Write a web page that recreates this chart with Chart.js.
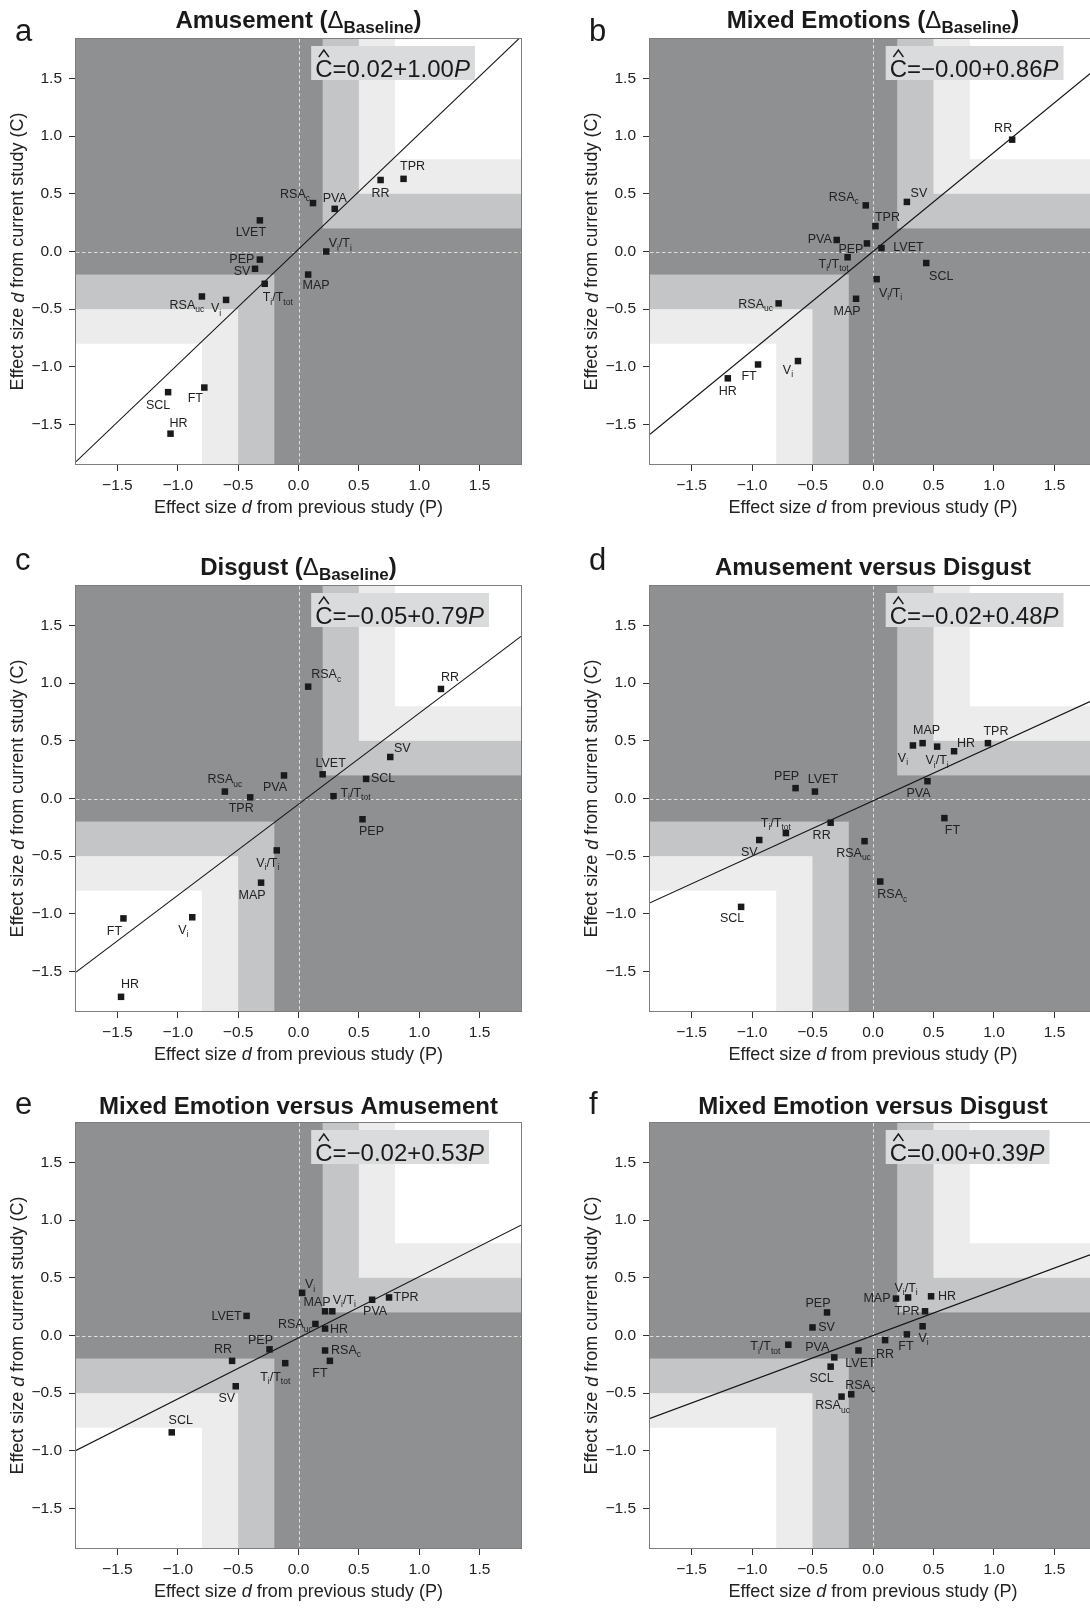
<!DOCTYPE html>
<html>
<head>
<meta charset="utf-8">
<script src="https://cdn.jsdelivr.net/npm/chart.js@4.4.1/dist/chart.umd.min.js"></script>
<style>
  html, body { margin: 0; padding: 0; background: #fff; width: 1090px; height: 1608px; overflow: hidden; }
  #wrap { position: relative; width: 1090px; height: 1608px; overflow: hidden; }
  canvas { position: absolute; }
</style>
</head>
<body>
<div id="wrap"></div>
<script>
"use strict";

// Measures, same order in every panel
const measures = ["HR", "SCL", "FT", "RR", "TPR", "PVA", "RSA_c", "RSA_uc", "LVET", "PEP", "SV", "MAP", "V_i", "V_i/T_i", "T_i/T_tot"];

// a: Amusement (delta baseline)
const prevA = [-1.06, -1.08, -0.78, 0.68, 0.87, 0.30, 0.12, -0.80, -0.32, -0.32, -0.36, 0.08, -0.60, 0.23, -0.28];
const currA = [-1.58, -1.22, -1.18, 0.62, 0.63, 0.37, 0.42, -0.39, 0.27, -0.07, -0.15, -0.20, -0.42, 0.00, -0.28];
// b: Mixed emotions (delta baseline)
const prevB = [-1.20, 0.44, -0.95, 1.15, 0.02, -0.30, -0.06, -0.78, 0.07, -0.05, 0.28, -0.14, -0.62, 0.03, -0.21];
const currB = [-1.10, -0.10, -0.98, 0.97, 0.22, 0.10, 0.40, -0.45, 0.03, 0.07, 0.43, -0.41, -0.95, -0.24, -0.05];
// c: Disgust (delta baseline)
const prevC = [-1.47, 0.56, -1.45, 1.18, -0.40, -0.12, 0.08, -0.61, 0.20, 0.53, 0.76, -0.31, -0.88, -0.18, 0.29];
const currC = [-1.72, 0.17, -1.04, 0.95, 0.01, 0.20, 0.97, 0.06, 0.21, -0.18, 0.36, -0.73, -1.03, -0.45, 0.02];
// d: Amusement versus disgust
const prevD = [0.67, -1.09, 0.59, -0.35, 0.95, 0.45, 0.06, -0.07, -0.48, -0.64, -0.94, 0.41, 0.33, 0.53, -0.72];
const currD = [0.41, -0.94, -0.17, -0.21, 0.48, 0.15, -0.72, -0.37, 0.06, 0.09, -0.36, 0.48, 0.46, 0.45, -0.30];
// e: Mixed emotion versus amusement
const prevE = [0.22, -1.05, 0.26, -0.55, 0.75, 0.61, 0.22, 0.14, -0.43, -0.24, -0.52, 0.22, 0.03, 0.28, -0.11];
const currE = [0.06, -0.84, -0.22, -0.22, 0.33, 0.31, -0.13, 0.10, 0.17, -0.12, -0.44, 0.21, 0.37, 0.21, -0.24];
// f: Mixed emotion versus disgust
const prevF = [0.48, -0.35, 0.28, 0.10, 0.43, -0.32, -0.18, -0.26, -0.12, -0.38, -0.50, 0.19, 0.41, 0.29, -0.70];
const currF = [0.34, -0.27, 0.01, -0.04, 0.21, -0.19, -0.51, -0.53, -0.13, 0.20, 0.07, 0.32, 0.08, 0.33, -0.08];

// fitted lines C = a + bP
const intercepts = [0.02, -0, -0.05, -0.02, -0.02, 0];
const slopes = [1.00, 0.86, 0.79, 0.48, 0.53, 0.39];

const titles = ["Amusement (Δ_Baseline)", "Mixed Emotions (Δ_Baseline)", "Disgust (Δ_Baseline)",
  "Amusement versus Disgust", "Mixed Emotion versus Amusement", "Mixed Emotion versus Disgust"];
const letters = ["a", "b", "c", "d", "e", "f"];
const tickValues = [-1.5, -1.0, -0.5, 0, 0.5, 1.0, 1.5];
const bands = [0.2, 0.5, 0.8]; // effect size thresholds for the shading
const axisMin = -1.843, axisMax = 1.843;

// label centre offsets from each point, pixels (same order as measures)
const offA = [[8,-11],[-10,12],[-9,10],[0,12],[9,-13],[0,-11],[-18,-10],[-15,8],[-9,11],[-18,-1],[-13,2],[8,10],[-10,8],[14,-9],[13,13]];
const offB = [[0,12],[15,12],[-9,11],[-9,-12],[12,-10],[-17,-1],[-22,-9],[-23,0],[27,-2],[-16,5],[12,-9],[-9,12],[-10,8],[14,13],[-14,6]];
const offC = [[9,-13],[17,-1],[-9,12],[9,-12],[-9,10],[-9,11],[18,-13],[0,-13],[8,-12],[9,11],[12,-9],[-9,12],[-9,12],[-9,12],[22,-4]];
const offD = [[12,-9],[-9,11],[8,11],[-9,12],[8,-13],[-9,11],[12,12],[-11,11],[8,-13],[-9,-13],[-10,11],[4,-14],[-10,12],[0,13],[-10,-11]];
const offE = [[14,0],[9,-13],[-10,12],[-9,-12],[17,-1],[3,11],[21,-1],[-20,0],[-20,0],[-9,-10],[-9,11],[-8,-10],[8,-9],[12,-12],[-10,13]];
const offF = [[16,-1],[-9,11],[-1,11],[0,13],[-18,-1],[-17,-11],[9,-10],[-9,8],[2,12],[-9,-10],[14,-1],[-19,-1],[1,11],[-2,-10],[-23,1]];

const panels = [
  [prevA, currA, offA], [prevB, currB, offB], [prevC, currC, offC],
  [prevD, currD, offD], [prevE, currE, offE], [prevF, currF, offF]
];

// page layout
const FONT = "'Liberation Sans', Arial, Helvetica, sans-serif";
const plotLeft = [76, 650], plotRight = [521, 1096];
const plotTop = [39, 586, 1123], plotH = 425;
const titleBase = [27.5, 575, 1114];
const letterBase = [41, 570, 1114], letterX = [15, 589];
const DARK = "#8f9092", MED = "#c4c5c7", LIGHT = "#ececec", WHITE = "#ffffff";
const INK = "#222";

function fmtTick(v) {
  const s = Math.abs(v).toFixed(1);
  return v < 0 ? "\u2212" + s : s;
}
function fmtCoef(v) {
  const neg = v < 0 || Object.is(v, -0);
  return (neg ? "\u2212" : "") + Math.abs(v).toFixed(2);
}

// "V_i/T_i" -> text parts with subscripts
function labelParts(str, size) {
  const main = size + "px " + FONT;
  const sub = (size * 0.68).toFixed(1) + "px " + FONT;
  const out = [];
  str.split("/").forEach((piece, i) => {
    if (i > 0) out.push({ t: "/", f: main, dy: 0 });
    const [base, s] = piece.split("_");
    out.push({ t: base, f: main, dy: 0 });
    if (s) out.push({ t: s, f: sub, dy: size * 0.28 });
  });
  return out;
}

function drawParts(ctx, parts, x, y, align) {
  let w = 0;
  parts.forEach(p => { ctx.font = p.f; p.w = ctx.measureText(p.t).width; w += p.w; });
  let cx = align === "center" ? x - w / 2 : (align === "right" ? x - w : x);
  ctx.textAlign = "left";
  parts.forEach(p => { ctx.font = p.f; ctx.fillText(p.t, cx, y + (p.dy || 0)); cx += p.w; });
  return w;
}

function titleParts(str) {
  const bold = "bold 24px " + FONT;
  const m = str.match(/^(.*\()Δ_(\w+)\)$/);
  if (!m) return [{ t: str, f: bold }];
  return [
    { t: m[1], f: bold },
    { t: "Δ", f: "24px " + FONT },
    { t: m[2], f: "bold 17px " + FONT, dy: 5 },
    { t: ")", f: bold }
  ];
}

function axisParts(tail) {
  const f = "18px " + FONT;
  return [{ t: "Effect size ", f: f }, { t: "d", f: "italic 18px " + FONT }, { t: tail, f: f }];
}

function decor(i, prev, curr, offs, cTop) {
  const row = Math.floor(i / 2);
  return {
    id: "decor" + i,
    beforeDatasetsDraw(chart) {
      const { ctx, chartArea: ca, scales: { x, y } } = chart;
      ctx.save();
      ctx.beginPath();
      ctx.rect(ca.left, ca.top, ca.width, ca.height);
      ctx.clip();
      ctx.fillStyle = DARK;
      ctx.fillRect(ca.left, ca.top, ca.width, ca.height);
      const shades = [MED, LIGHT, WHITE];
      bands.forEach((b, k) => {
        ctx.fillStyle = shades[k];
        const px = x.getPixelForValue(b), py = y.getPixelForValue(b);
        ctx.fillRect(px, ca.top, ca.right - px, py - ca.top);
        const nx = x.getPixelForValue(-b), ny = y.getPixelForValue(-b);
        ctx.fillRect(ca.left, ny, nx - ca.left, ca.bottom - ny);
      });
      // dashed zero lines
      ctx.strokeStyle = "#dedede";
      ctx.lineWidth = 1;
      ctx.setLineDash([3.5, 2.5]);
      const x0 = Math.round(x.getPixelForValue(0)) + 0.5;
      const y0 = Math.round(y.getPixelForValue(0)) + 0.5;
      ctx.beginPath();
      ctx.moveTo(x0, ca.top); ctx.lineTo(x0, ca.bottom);
      ctx.moveTo(ca.left, y0); ctx.lineTo(ca.right, y0);
      ctx.stroke();
      ctx.restore();
    },
    afterDatasetsDraw(chart) {
      const { ctx, chartArea: ca, scales: { x, y } } = chart;
      ctx.save();
      // point labels
      ctx.fillStyle = INK;
      ctx.textBaseline = "alphabetic";
      measures.forEach((name, k) => {
        const px = x.getPixelForValue(prev[k]) + offs[k][0];
        const py = y.getPixelForValue(curr[k]) + offs[k][1] + 4.5;
        drawParts(ctx, labelParts(name, 12.5), px, py, "center");
      });

      // equation box
      const eq = [
        { t: "C", f: "24px " + FONT },
        { t: "=" + fmtCoef(intercepts[i]) + "+" + slopes[i].toFixed(2), f: "24px " + FONT },
        { t: "P", f: "italic 24px " + FONT }
      ];
      let w = 0;
      eq.forEach(p => { ctx.font = p.f; p.w = ctx.measureText(p.t).width; w += p.w; });
      const bx = x.getPixelForValue(0.105), by = ca.top + 7;
      ctx.fillStyle = "#dadbdc";
      ctx.fillRect(bx, by, w + 9, 34);
      ctx.fillStyle = "#1a1a1a";
      drawParts(ctx, eq, bx + 4, by + 31, "left");
      const hx = bx + 4 + eq[0].w / 2;
      ctx.strokeStyle = "#1a1a1a";
      ctx.lineWidth = 1.4;
      ctx.beginPath();
      ctx.moveTo(hx - 5, by + 11); ctx.lineTo(hx, by + 4); ctx.lineTo(hx + 5, by + 11);
      ctx.stroke();

      // plot frame
      ctx.strokeStyle = "#7d7d7d";
      ctx.lineWidth = 1;
      ctx.strokeRect(ca.left - 0.5, ca.top - 0.5, ca.width + 1, ca.height + 1);
      ctx.restore();
    },
    afterDraw(chart) {
      const { ctx, chartArea: ca } = chart;
      ctx.save();
      ctx.fillStyle = "#1a1a1a";
      ctx.textBaseline = "alphabetic";
      drawParts(ctx, titleParts(titles[i]), (ca.left + ca.right) / 2, titleBase[row] - cTop, "center");
      ctx.font = "31px " + FONT;
      ctx.textAlign = "left";
      ctx.fillText(letters[i], letterX[i % 2] - (i % 2 ? 545 : 0), letterBase[row] - cTop);

      ctx.fillStyle = INK;
      ctx.textBaseline = "middle";
      drawParts(ctx, axisParts(" from previous study (P)"), (ca.left + ca.right) / 2, ca.bottom + 44, "center");
      ctx.translate(ca.left - 57.5, (ca.top + ca.bottom) / 2);
      ctx.rotate(-Math.PI / 2);
      drawParts(ctx, axisParts(" from current study (C)"), 0, 0, "center");
      ctx.restore();
    }
  };
}

const wrap = document.getElementById("wrap");

panels.forEach(([prev, curr, offs], i) => {
  const col = i % 2, row = Math.floor(i / 2);
  const cLeft = col ? 545 : 0, cW = col ? 560 : 545;
  const cTop = plotTop[row] - 50, cH = 545;
  const canvas = document.createElement("canvas");
  canvas.width = cW;
  canvas.height = cH;
  canvas.style.left = cLeft + "px";
  canvas.style.top = cTop + "px";
  canvas.style.width = cW + "px";
  canvas.style.height = cH + "px";
  wrap.appendChild(canvas);

  const yW = plotLeft[col] - cLeft;
  const padR = cW - (plotRight[col] - cLeft);
  const a = intercepts[i], b = slopes[i];

  const tickOpts = {
    color: INK,
    font: { family: FONT, size: 15.5 },
    maxRotation: 0,
    autoSkip: false,
    callback: v => fmtTick(v)
  };
  const gridOpts = { drawOnChartArea: false, drawTicks: true, tickLength: 7, color: "#333" };

  new Chart(canvas, {
    data: {
      datasets: [
        {
          type: "scatter",
          data: prev.map((p, k) => ({ x: p, y: curr[k] })),
          pointStyle: "rect",
          pointRadius: 4.6,
          pointBackgroundColor: "#1a1a1a",
          pointBorderWidth: 0,
          order: 1
        },
        {
          type: "line",
          data: [{ x: axisMin, y: a + b * axisMin }, { x: axisMax, y: a + b * axisMax }],
          borderColor: "#141414",
          borderWidth: 1.1,
          pointRadius: 0,
          fill: false,
          order: 2
        }
      ]
    },
    options: {
      responsive: false,
      animation: false,
      devicePixelRatio: 1,
      layout: { padding: { top: 50, left: 0, right: padR, bottom: 0 } },
      plugins: { legend: { display: false }, tooltip: { enabled: false } },
      scales: {
        x: {
          type: "linear",
          min: axisMin,
          max: axisMax,
          afterFit: s => { s.height = 70; },
          afterBuildTicks: s => { s.ticks = tickValues.map(v => ({ value: v })); },
          grid: gridOpts,
          border: { display: false },
          ticks: Object.assign({ padding: 5 }, tickOpts)
        },
        y: {
          type: "linear",
          min: axisMin,
          max: axisMax,
          afterFit: s => { s.width = yW; },
          afterBuildTicks: s => { s.ticks = tickValues.map(v => ({ value: v })); },
          grid: gridOpts,
          border: { display: false },
          ticks: Object.assign({ padding: 7 }, tickOpts)
        }
      }
    },
    plugins: [decor(i, prev, curr, offs, cTop)]
  });
});
</script>
</body>
</html>
